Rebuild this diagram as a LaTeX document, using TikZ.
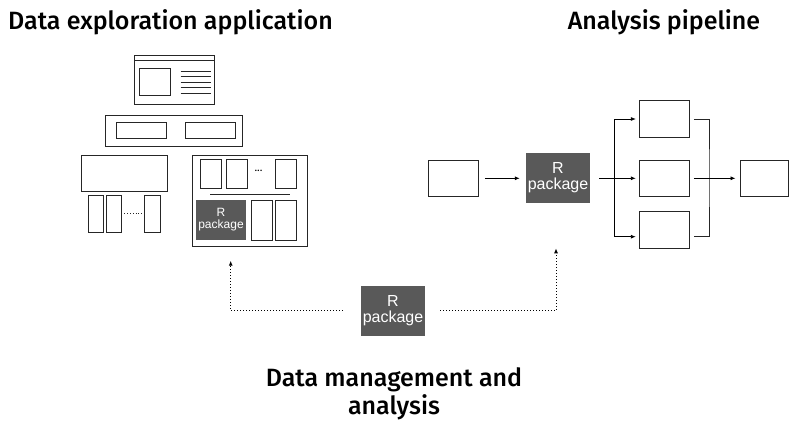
\documentclass[tikz,border=0pt]{standalone}
\usepackage{fontspec}
\setmainfont{Fira Sans}[BoldFont={Fira Sans Medium}]
\newfontfamily\pkgfont{Liberation Sans}
\usetikzlibrary{arrows.meta,calc}

\tikzset{
    box/.style={draw=black!85, line width=0.9pt, fill=white, inner sep=0pt},
    rpkg/.style={fill=black!65, text=white, inner sep=0pt, align=center,
        font=\pkgfont\fontsize{16}{16.7}\selectfont},
    small rpkg/.style={rpkg, font=\pkgfont\fontsize{12}{12.8}\selectfont},
    flow/.style={line width=0.8pt, -{Latex[length=5pt,width=4pt]}},
    link/.style={line width=0.8pt, black!85},
    dotlink/.style={line width=1pt, dotted, -{Latex[length=5pt,width=4pt]}},
    heading/.style={font=\bfseries\fontsize{25}{28}\selectfont, align=center, inner sep=0pt}
}

\begin{document}
\begin{tikzpicture}[x=1pt, y=-1pt]
        \useasboundingbox (0, 0) rectangle (790, 423);
        % headings
        \node [heading, anchor=base] (hexp) at (170.5, 29.3) {Data exploration application};
        \node [heading, anchor=base] (hpipe) at (664, 29.3) {Analysis pipeline};
        \node [heading] (hdata) at (394, 394) {Data management and\\analysis};

        % application sketch
        \node [box, minimum width=79.7, minimum height=49] (win) at (174.2, 79.5) {};
        \draw [link] (win.north west) ++(0, 5.7) -- ++(79.7, 0);
        \node [box, minimum width=31, minimum height=26.7] (winpic) at (154.5, 81.7) {};
        \foreach \y in {71.7, 76.7, 82.3, 87.7, 93.3}{
            \draw [link] (180.7, \y) -- (211.3, \y);
        }
        \node [box, minimum width=137.7, minimum height=31] (nav) at (173.9, 130.5) {};
        \node [box, minimum width=50.7, minimum height=16.4] (navl) at (141.4, 130.5) {};
        \node [box, minimum width=50, minimum height=16.4] (navr) at (210, 130.5) {};
        \node [box, minimum width=85.6, minimum height=36] (side) at (124.5, 173.7) {};
        \node [box, minimum width=15, minimum height=37.3] (sidea) at (95.8, 213.7) {};
        \node [box, minimum width=15, minimum height=37.3] (sideb) at (113.5, 213.7) {};
        \node [box, minimum width=15.7, minimum height=37.3] (sidec) at (152.2, 213.7) {};
        \draw [link, dotted] (sideb.east) ++(3, 0) -- ($(sidec.west) + (-2, 0)$);
        \node [box, minimum width=115, minimum height=91] (panel) at (250.2, 200.5) {};
        \node [box, minimum width=21.7, minimum height=29] (panela) at (210.8, 173.8) {};
        \node [box, minimum width=21.7, minimum height=29] (panelb) at (236.8, 173.8) {};
        \node [box, minimum width=21.7, minimum height=29] (panelc) at (285.8, 173.8) {};
        \node [font=\fontsize{11}{11}\selectfont] (paneldots) at (258.5, 171) {...};
        \draw [link] (210, 194.3) -- (290, 194.3);
        \node [small rpkg, minimum width=50, minimum height=40] (rapp) at (221, 219.7) {R\\package};
        \node [box, minimum width=21.7, minimum height=39.3] (paneld) at (261.8, 220.3) {};
        \node [box, minimum width=21.7, minimum height=39.3] (panele) at (285.8, 220.3) {};

        % pipeline
        \node [box, minimum width=50, minimum height=36.7] (pin) at (453.3, 178.3) {};
        \node [rpkg, minimum width=64, minimum height=50] (rpipe) at (558, 177.7) {R\\package};
        \node [box, minimum width=50, minimum height=36.7] (pa) at (664.3, 119) {};
        \node [box, minimum width=50, minimum height=36.7] (pb) at (664.3, 178.3) {};
        \node [box, minimum width=50, minimum height=36.7] (pc) at (664.3, 230) {};
        \node [box, minimum width=48, minimum height=36.7] (pout) at (764, 178.3) {};
        \coordinate (split) at (614.3, 178.3);
        \coordinate (merge) at (709, 178.3);
        \draw [flow, shorten <=6pt, shorten >=6pt] (pin.east) -- (rpipe.west |- pin.east);
        \draw [flow, shorten <=9pt, shorten >=3pt] (rpipe.east |- pb.west) -- (pb.west);
        \draw [flow, shorten >=3pt] (split) |- (pa.west);
        \draw [flow, shorten >=3pt] (split) |- ([yshift=-6.7pt]pc.west);
        \draw [link] ([xshift=4pt]pa.east) -| (merge) |- ([xshift=4pt, yshift=-6.7pt]pc.east);
        \draw [flow, shorten <=4pt, shorten >=4pt] (pb.east) -- (pout.west);

        % data management
        \node [rpkg, minimum width=64, minimum height=50] (rdata) at (393, 310.7) {R\\package};
        \coordinate (toapp) at (230.7, 260.7);
        \coordinate (topipe) at (556, 248.3);
        \draw [dotlink] ([xshift=-18pt]rdata.west) -| (toapp);
        \draw [dotlink] ([xshift=15pt]rdata.east) -| (topipe);
\end{tikzpicture}
\end{document}
